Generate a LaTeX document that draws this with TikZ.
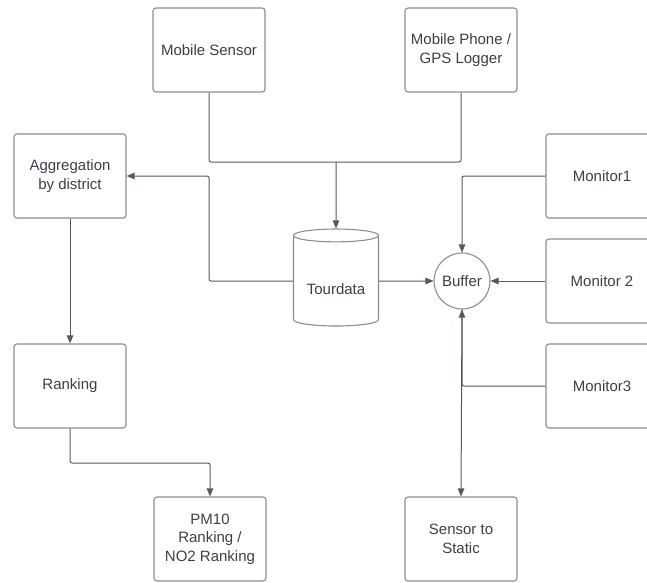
\documentclass[tikz,border=0pt]{standalone}
\usepackage{fontspec}
\setmainfont{Liberation Sans}
\usepackage{tikz}
\usetikzlibrary{arrows.meta}
\usetikzlibrary{shapes.geometric}
\usepackage{xcolor}
\definecolor{ColLine}{RGB}{84,90,99}
\definecolor{ColBorder}{RGB}{138,142,148}
\definecolor{ColText}{RGB}{58,63,72}
\tikzstyle{BoxFlow}=[rectangle,rounded corners=3pt,draw=ColBorder,line width=1.1pt,
minimum width=112pt,minimum height=84pt,inner sep=2pt,align=center,text=ColText,
font=\fontsize{15}{18.5}\selectfont]
\tikzstyle{DataFlow}=[cylinder,shape border rotate=90,aspect=0.22,draw=ColBorder,
line width=1.1pt,minimum width=85pt,minimum height=97pt,inner sep=0pt,text=ColText,
font=\fontsize{15}{18.5}\selectfont]
\tikzstyle{HubFlow}=[circle,draw=ColBorder,line width=1.1pt,minimum size=56pt,
inner sep=0pt,text=ColText,font=\fontsize{15}{18.5}\selectfont]
\tikzstyle{EdgeFlow}=[ColLine,line width=1pt,rounded corners=2pt,
-{Triangle[length=8pt,width=6.5pt]}]
\tikzstyle{JoinFlow}=[ColLine,line width=1pt,rounded corners=2pt]

\begin{document}
\begin{tikzpicture}[x=1pt,y=-1pt]
        \useasboundingbox(0,0)rectangle(647,582);
        \clip(0,0)rectangle(647,582);
        \node[BoxFlow](sensor)at(209,50){Mobile Sensor};
        \node[BoxFlow](phone)at(461,50){Mobile Phone /\\GPS Logger};
        \node[BoxFlow](agg)at(70,176){Aggregation\\by district};
        \node[BoxFlow](rank)at(70,386){Ranking};
        \node[BoxFlow](result)at(210,539){PM10\\Ranking /\\NO2 Ranking};
        \node[BoxFlow](static)at(461,539){Sensor to\\Static};
        \node[BoxFlow](mona)at(602,176){Monitor1};
        \node[BoxFlow](monb)at(602,281){Monitor 2};
        \node[BoxFlow](monc)at(602,386){Monitor3};
        % text sits below the top lid
        \node[DataFlow](tour)at(336,281){\raisebox{-8pt}[\height][\depth]{Tourdata}};
        \node[HubFlow](buffer)at(462,281){Buffer};
        \coordinate(join)at(336,162);
        \coordinate(bend)at(209,176);
        \coordinate(drop)at(210,463);
        \draw[JoinFlow](sensor.south)|-(join);
        \draw[JoinFlow](phone.south)|-(join);
        \draw[EdgeFlow](join)--(tour.north);
        \draw[EdgeFlow](tour.west)-|(bend)--(agg.east);
        \draw[EdgeFlow](tour.east)--(buffer.west);
        \draw[EdgeFlow](mona.west)-|(buffer.north);
        \draw[EdgeFlow](monb.west)--(buffer.east);
        \draw[EdgeFlow](monc.west)-|(buffer.south);
        \draw[EdgeFlow](buffer.south)--(static.north);
        \draw[EdgeFlow](agg.south)--(rank.north);
        \draw[EdgeFlow](rank.south)|-(drop)--(result.north);
    \end{tikzpicture}
\end{document}
